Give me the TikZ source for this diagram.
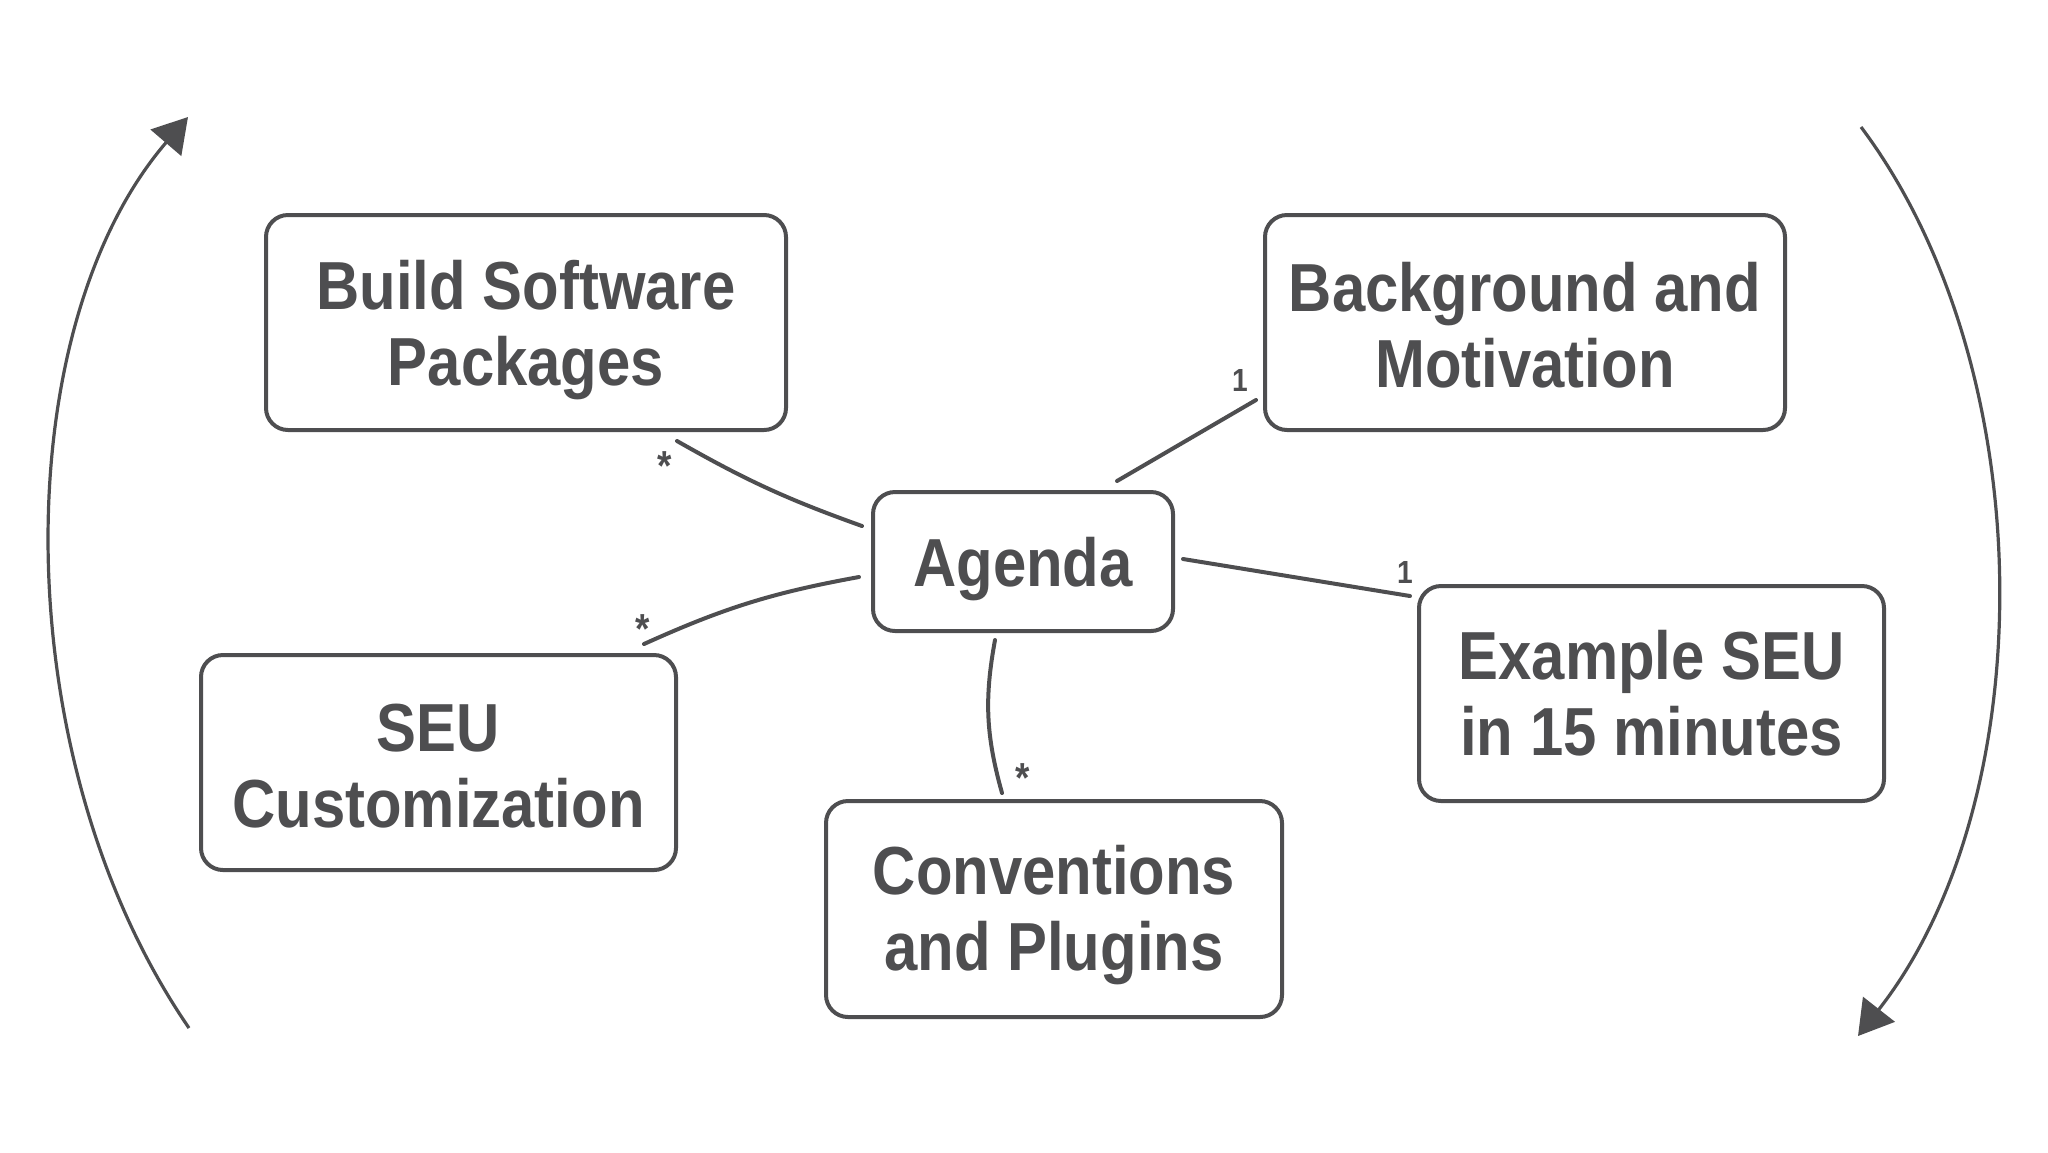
\documentclass[tikz,border=0pt]{standalone}
\usepackage{fontspec}
\setmainfont{Liberation Sans}[FakeStretch=0.88]
\usetikzlibrary{arrows.meta,calc}
\definecolor{ink}{RGB}{78,78,80}
\newcommand\lift[1]{\rule{0pt}{#1}}
\begin{document}
\begin{tikzpicture}[x=0.5pt,y=-0.5pt,
  topic/.style={draw=ink, line width=2pt, rounded corners=11pt, text=ink,
    font=\fontsize{34}{38}\selectfont\bfseries, align=center, inner sep=0pt},
  link/.style={draw=ink, line width=2pt, line cap=round},
  mult/.style={text=ink, font=\fontsize{16}{16}\selectfont\bfseries, inner sep=0pt},
  star/.style={text=ink, font=\fontsize{21}{21}\selectfont\bfseries, inner sep=0pt},
  cyclearc/.style={draw=ink, line width=1.6pt, -{Triangle[length=17pt,width=20pt]}}
]
\useasboundingbox (0,0) rectangle (2048,1152);

\node[topic, minimum width=260pt, minimum height=107.5pt] (build) at (526,322.5) {\lift{32.5pt}Build Software\\Packages};
\node[topic, minimum width=260pt, minimum height=107.5pt] (bg) at (1525,322.5) {\lift{27.5pt}Background and\\Motivation};
\node[topic, minimum width=150pt, minimum height=69.5pt] (agenda) at (1023,561.5) {\lift{32pt}Agenda};
\node[topic, minimum width=237.5pt, minimum height=107.5pt] (seu) at (438.5,762.5) {\lift{27pt}SEU\\Customization};
\node[topic, minimum width=232.5pt, minimum height=107.5pt] (ex) at (1651.5,693.5) {Example SEU\\in 15 minutes};
\node[topic, minimum width=228pt, minimum height=108pt] (conv) at (1054,909) {\lift{31pt}Conventions\\and Plugins};

\draw[link] ([xshift=75.5pt,yshift=-4.5pt]build.south) to[bend right=5] ([xshift=-4.5pt,yshift=17.75pt]agenda.west);
\draw[link] ([xshift=102.75pt,yshift=4.5pt]seu.north) to[bend left=7] ([xshift=-6pt,yshift=-7.75pt]agenda.west);
\draw[link] ([xshift=-14pt,yshift=-3.5pt]agenda.south) to[bend right=13] ([xshift=-26pt,yshift=3pt]conv.north);
\draw[link] ([xshift=47pt,yshift=4.5pt]agenda.north) to ([xshift=-3.5pt,yshift=-38.75pt]bg.west);
\draw[link] ([xshift=4pt,yshift=1.25pt]agenda.east) to ([xshift=-3.5pt,yshift=48.75pt]ex.west);

\node[star] (m1) at (665,466) {*};
\node[star] (m2) at (643,629) {*};
\node[star] (m3) at (1023,778) {*};
\node[mult] (o1) at (1240,380) {1};
\node[mult] (o2) at (1405,572) {1};

\coordinate (ltop) at (188,117);
\coordinate (lbot) at (189,1028);
\coordinate (rtop) at (1861,127);
\coordinate (rbot) at (1858,1036);
\draw[cyclearc] (lbot) .. controls (5,760) and (5,330) .. (ltop);
\draw[cyclearc] (rtop) .. controls (2043,370) and (2043,800) .. (rbot);
\end{tikzpicture}
\end{document}
